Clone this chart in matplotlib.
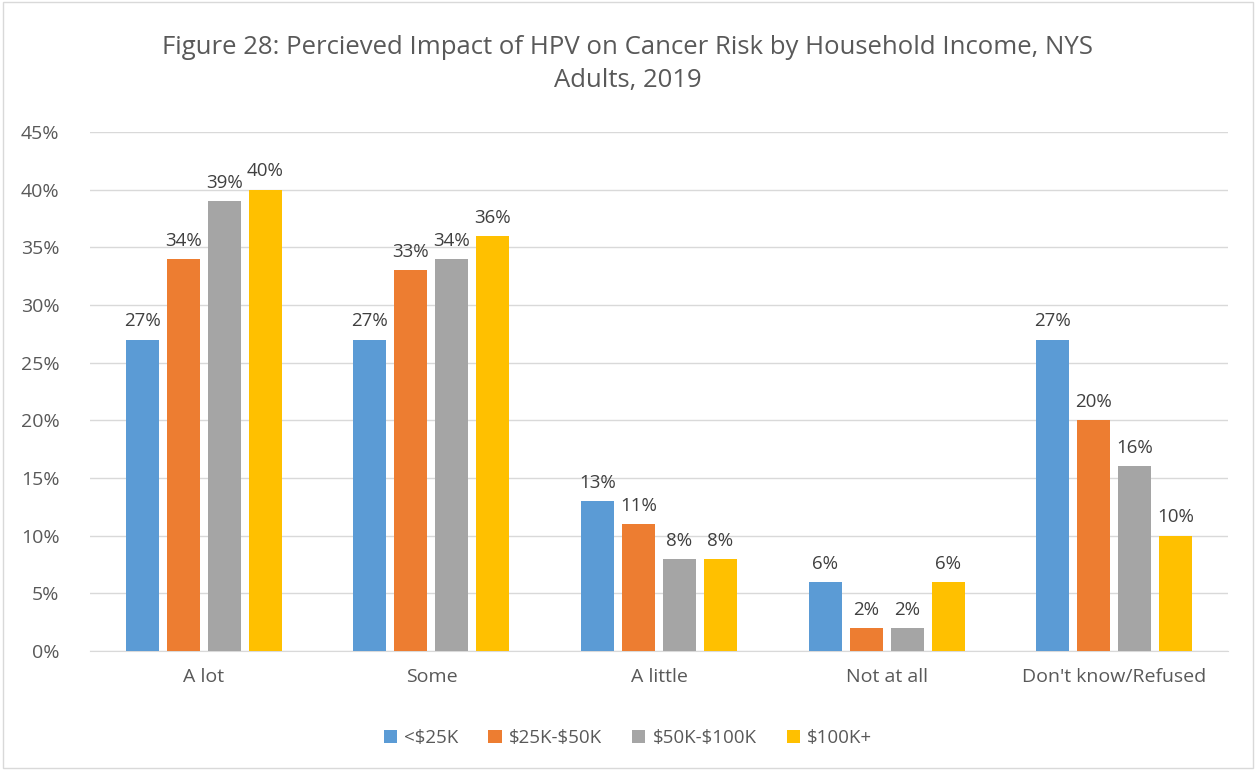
import numpy as np
import matplotlib
matplotlib.use('Agg')
import matplotlib.pyplot as plt
from matplotlib.patches import Rectangle

plt.rcParams['font.family'] = ['Open Sans', 'DejaVu Sans']
plt.rcParams['text.parse_math'] = False

categories = ['A lot', 'Some', 'A little', 'Not at all', "Don't know/Refused"]
series = ['<$25K', '$25K-$50K', '$50K-$100K', '$100K+']
lt25 = [27, 27, 13, 6, 27]
k25_50 = [34, 33, 11, 2, 20]
k50_100 = [39, 34, 8, 2, 16]
k100 = [40, 36, 8, 6, 10]
colors = ['#5B9BD5', '#ED7D31', '#A5A5A5', '#FFC000']

title = 'Figure 28: Percieved Impact of HPV on Cancer Risk by Household Income, NYS\nAdults, 2019'
text_color = '#595959'

fig = plt.figure(figsize=(12.56, 7.7), dpi=100)
ax = fig.add_axes([90 / 1256, 1 - 651 / 770, 1138 / 1256, 519 / 770])

x = np.arange(len(categories))
step = 0.18
width = 0.145
for i, (vals, name, c) in enumerate(zip([lt25, k25_50, k50_100, k100], series, colors)):
    pos = x + (i - 1.5) * step
    bars = ax.bar(pos, vals, width, color=c, label=name, zorder=3)
    for b, v in zip(bars, vals):
        ax.text(b.get_x() + b.get_width() / 2, v + 0.8, f'{v}%', ha='center', va='bottom',
                fontsize=13.5, color='#404040')

ax.set_xlim(-0.5, 4.5)
ax.set_ylim(0, 45)
ax.set_yticks(range(0, 46, 5))
ax.set_yticklabels([f'{t}%' for t in range(0, 46, 5)])
ax.set_xticks(x)
ax.set_xticklabels(categories)
ax.tick_params(axis='both', length=0, labelsize=14, colors=text_color)
ax.tick_params(axis='y', pad=22)
ax.tick_params(axis='x', pad=12)
ax.grid(axis='y', color='#D9D9D9', linewidth=1, zorder=0)
for s in ['top', 'right', 'left']:
    ax.spines[s].set_visible(False)
ax.spines['bottom'].set_color('#D9D9D9')

fig.text(0.5, 1 - 64 / 770, title, ha='center', va='center', fontsize=18.5, color=text_color,
         linespacing=1.4)

fig.legend(loc='center', bbox_to_anchor=(0.5, 1 - 738 / 770), ncol=4, frameon=False,
           fontsize=13.5, labelcolor=text_color, handlelength=0.7, handleheight=0.7,
           columnspacing=1.6, handletextpad=0.4)

fig.patches.append(Rectangle((0.002, 0.002), 0.996, 0.996, transform=fig.transFigure,
                             fill=False, edgecolor='#D9D9D9', linewidth=1))

fig.savefig('out.png', dpi=100, facecolor='white')
